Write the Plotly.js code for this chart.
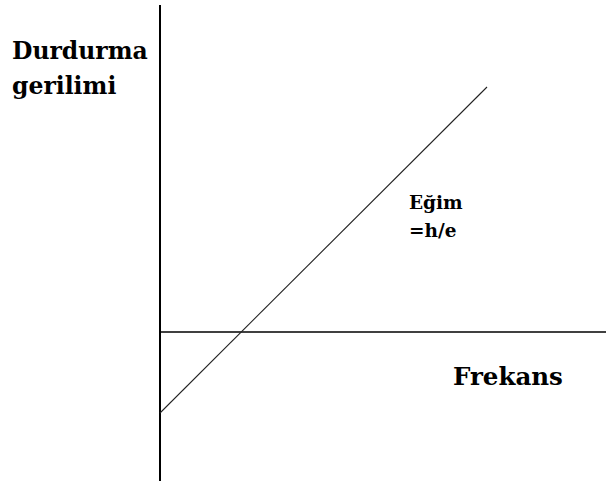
<!DOCTYPE html>
<html>
<head>
<meta charset="utf-8">
<script src="https://cdn.plot.ly/plotly-3.0.1.min.js"></script>
<style>html,body{margin:0;padding:0;background:#fff;}#chart{width:606px;height:485px;}</style>
</head>
<body>
<div id="chart"></div>
<script>
// Stopping voltage vs frequency (schematic)
const lineFreq = [0, 327];
const lineVoltage = [-81, 245];
const vAxisX = [0, 0];
const vAxisY = [327, -149];
const hAxisX = [0, 446];
const hAxisY = [0, 0];
const yLabelLines = ["Durdurma", "gerilimi"];
const slopeLabelLines = ["Eğim", "=h/e"];
const xLabel = "Frekans";

const font = "DejaVu Serif";
const traces = [
  {x: vAxisX, y: vAxisY, mode: "lines", line: {color: "#000", width: 2}, hoverinfo: "skip"},
  {x: hAxisX, y: hAxisY, mode: "lines", line: {color: "#000", width: 1.6}, hoverinfo: "skip"},
  {x: lineFreq, y: lineVoltage, mode: "lines", line: {color: "#222", width: 1.1}, hoverinfo: "skip"}
];
const ann = (text, x, y, size) => ({
  text: "<b>" + text + "</b>", x: x, y: y, xref: "x", yref: "y",
  xanchor: "left", yanchor: "middle", showarrow: false,
  font: {family: font, size: size, color: "#000"}
});
const layout = {
  width: 606, height: 485,
  margin: {l: 0, r: 0, t: 0, b: 0},
  paper_bgcolor: "#fff", plot_bgcolor: "#fff",
  showlegend: false,
  xaxis: {range: [-160, 446], visible: false, fixedrange: true},
  yaxis: {range: [-153, 332], visible: false, fixedrange: true},
  annotations: [
    ann(yLabelLines[0], -150, 281, 23.5),
    ann(yLabelLines[1], -150, 246, 23.5),
    ann(slopeLabelLines[0], 247, 130, 18.5),
    ann(slopeLabelLines[1], 247, 102, 18.5),
    ann(xLabel, 291, -44, 24.5)
  ]
};
Plotly.newPlot("chart", traces, layout, {staticPlot: true, displayModeBar: false});
</script>
</body>
</html>
